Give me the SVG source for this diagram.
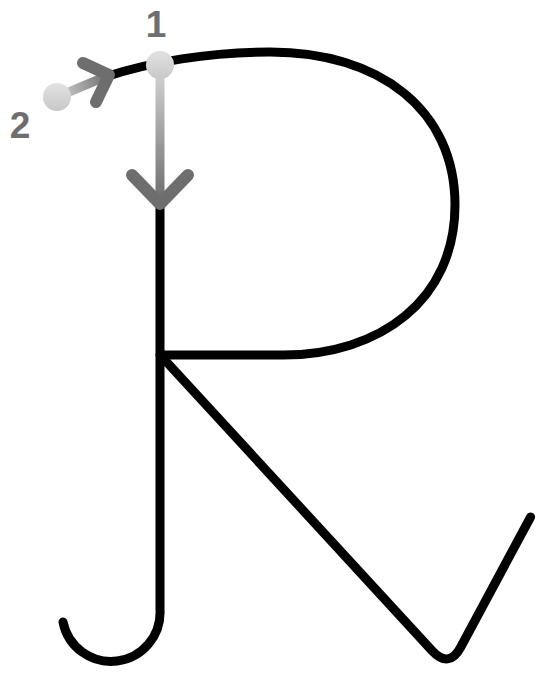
<svg xmlns="http://www.w3.org/2000/svg" width="541" height="674" viewBox="0 0 541 674">
  <defs>
    <linearGradient id="g1" gradientUnits="userSpaceOnUse" x1="160" y1="70" x2="160" y2="200">
      <stop offset="0" stop-color="#d4d4d4"/>
      <stop offset="1" stop-color="#6e6e6e"/>
    </linearGradient>
    <linearGradient id="g2" gradientUnits="userSpaceOnUse" x1="57" y1="97" x2="108" y2="76">
      <stop offset="0" stop-color="#d4d4d4"/>
      <stop offset="1" stop-color="#6e6e6e"/>
    </linearGradient>
    <linearGradient id="dot" x1="0" y1="0" x2="0" y2="1">
      <stop offset="0" stop-color="#e2e2e2"/>
      <stop offset="1" stop-color="#c8c8c8"/>
    </linearGradient>
  </defs>
  <style>
    .ink{fill:none;stroke:#000;stroke-width:9;stroke-linecap:round;stroke-linejoin:round}
    .shaft{fill:none;stroke-width:9;stroke-linecap:round}
    .head{fill:none;stroke:#6e6e6e;stroke-width:12;stroke-linecap:round;stroke-linejoin:round}
    .dot{fill:url(#dot)}
    .num{font-family:"Liberation Sans",Arial,sans-serif;font-weight:bold;font-size:37px;fill:#6e6e6e;text-anchor:middle}
  </style>
  <g id="letter">
    <path class="ink" d="M105 77 C150 62 210 52 270 52 C380 52 455 110 455 205 C455 300 380 355 283 355 L160 355"/>
    <path class="ink" d="M160 205 L160 610 A49 49 0 0 1 63 622"/>
    <path class="ink" d="M162 357 L432 650.6 Q449 669 460.8 647 L530.6 517"/>
  </g>
  <g id="stroke1">
    <line class="shaft" x1="160" y1="65" x2="160" y2="203" stroke="url(#g1)"/>
    <polyline class="head" points="132,175 160,204 188,175"/>
    <circle class="dot" cx="160" cy="65" r="14"/>
    <text class="num" x="156" y="37">1</text>
  </g>
  <g id="stroke2">
    <line class="shaft" x1="57" y1="97" x2="107" y2="76" stroke="url(#g2)"/>
    <polyline class="head" points="83,63 109,75 96,102"/>
    <circle class="dot" cx="57" cy="97" r="14"/>
    <text class="num" x="20" y="138">2</text>
  </g>
</svg>
